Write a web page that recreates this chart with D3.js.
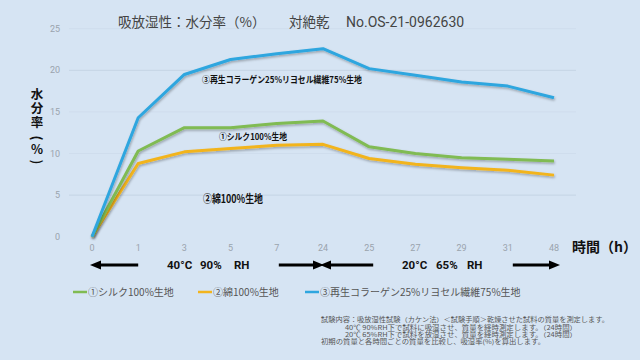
<!DOCTYPE html>
<html><head><meta charset="utf-8">
<script src="https://cdn.jsdelivr.net/npm/d3@7"></script>
<style>
html,body{margin:0;padding:0;background:#d6e4f3;}
svg{display:block;font-family:"Noto Sans CJK JP","Noto Sans",sans-serif;}
</style></head><body>
<svg id="c" width="640" height="360"></svg>
<script>
const categories = ["0","1","3","5","7","24","25","27","29","31","48"];
const silk     = [0,10.3,13.1,13.1,13.6,13.9,10.8,10.0,9.5,9.3,9.1];
const cotton   = [0,8.8,10.2,10.6,11.0,11.1,9.4,8.7,8.3,8.0,7.4];
const collagen = [0,14.3,19.5,21.3,22.0,22.6,20.2,19.4,18.6,18.1,16.7];
const yTicks = [0,5,10,15,20,25];
const seriesNames = ["①シルク100%生地","②綿100%生地","③再生コラーゲン25%リヨセル繊維75%生地"];
const colors = ["#80bb52","#f2b41e","#2ea6df"];
const notes = [
  "試験内容：吸放湿性試験（カケン法）＜試験手順＞乾燥させた試料の質量を測定します。",
  "40℃ 90%RH下で試料に吸湿させ、質量を経時測定します。（24時間）",
  "20℃ 65%RH下で試料を放湿させ、質量を経時測定します。（24時間）",
  "初期の質量と各時間ごとの質量を比較し、吸湿率(%)を算出します。"
];

const svg = d3.select("#c");
svg.append("rect").attr("width",640).attr("height",360).attr("fill","#d6e4f3");
const defs = svg.append("defs");
const f = defs.append("filter").attr("id","sh").attr("x","-10%").attr("y","-10%").attr("width","120%").attr("height","130%");
f.append("feDropShadow").attr("dx",0.8).attr("dy",1.5).attr("stdDeviation",0.9).attr("flood-color","#000").attr("flood-opacity",0.3);

const x = d3.scalePoint().domain(categories).range([92,554]);
const y = d3.scaleLinear().domain([0,25]).range([236.7,28.7]);

// gridlines
svg.append("g").selectAll("line").data(yTicks.filter(d=>d>0)).join("line")
  .attr("x1",69).attr("x2",576).attr("y1",d=>y(d)).attr("y2",d=>y(d))
  .attr("stroke",d=>(d===20||d===5)?"#c5d4e4":"#cfdded").attr("stroke-width",1);

// y tick labels
svg.append("g").selectAll("text").data(yTicks).join("text")
  .attr("x",60).attr("y",d=>y(d)).attr("dy","0.35em").attr("text-anchor","end")
  .attr("font-family","Roboto, sans-serif").attr("font-size",9).attr("fill","#9aa3ad").text(d=>d);

// x tick labels
svg.append("g").selectAll("text").data(categories).join("text")
  .attr("x",d=>x(d)).attr("y",248).attr("dy","0.35em").attr("text-anchor","middle")
  .attr("font-family","Roboto, sans-serif").attr("font-size",9).attr("fill","#9aa3ad").text(d=>d);

// lines
const line = d3.line().x((d,i)=>x(categories[i])).y(d=>y(d));
[cotton, silk, collagen].forEach((s,k)=>{
  const ci = [1,0,2][k];
  svg.append("path").attr("d",line(s)).attr("fill","none").attr("stroke",colors[ci])
    .attr("stroke-width",3).attr("stroke-linejoin","round").attr("filter","url(#sh)");
});

// title
const tg = svg.append("g").attr("fill","#444").attr("font-size",13.5);
tg.append("text").attr("x",118).attr("y",22).attr("dy","0.35em").text("吸放湿性：水分率（%）");
tg.append("text").attr("x",289).attr("y",22).attr("dy","0.35em").text("対絶乾");
tg.append("text").attr("x",346).attr("y",22).attr("dy","0.35em").attr("font-family","Roboto, sans-serif").attr("font-size",14).text("No.OS-21-0962630");

// y axis title (vertical)
const yt = [["水",95,0],["分",109,0],["率",123,0],["(",138,90],["%",150,0],[")",162,90]];
svg.append("g").selectAll("text").data(yt).join("text")
  .attr("transform",d=>`translate(37,${d[1]}) rotate(${d[2]})`)
  .attr("dy","0.35em").attr("text-anchor","middle")
  .attr("font-size",d=>d[2]?13:12.5).attr("font-weight","bold").attr("fill","#111").text(d=>d[0]);

// x axis title
svg.append("text").attr("x",572).attr("y",247).attr("dy","0.35em").attr("font-size",14)
  .attr("font-weight","bold").attr("fill","#111").text("時間（h）");

// annotations
svg.append("text").attr("x",202).attr("y",80).attr("dy","0.35em").attr("font-size",9)
  .attr("font-weight","bold").attr("fill","#111").attr("textLength",160).attr("lengthAdjust","spacingAndGlyphs").text(seriesNames[2]);
svg.append("text").attr("x",219).attr("y",137).attr("dy","0.35em").attr("font-size",9)
  .attr("font-weight","bold").attr("fill","#111").attr("textLength",68).attr("lengthAdjust","spacingAndGlyphs").text(seriesNames[0]);
svg.append("text").attr("x",203).attr("y",199).attr("dy","0.35em").attr("font-size",11)
  .attr("font-weight","bold").attr("fill","#111").attr("textLength",60).attr("lengthAdjust","spacingAndGlyphs").text(seriesNames[1]);

// arrows
function arrow(x1,x2,yy){
  const dir = x2>x1?1:-1;
  const g = svg.append("g");
  g.append("line").attr("x1",x1).attr("x2",x2-dir*8).attr("y1",yy).attr("y2",yy).attr("stroke","#000").attr("stroke-width",3);
  g.append("path").attr("d",`M${x2},${yy} L${x2-dir*11},${yy-4.5} L${x2-dir*11},${yy+4.5} Z`).attr("fill","#000");
}
const ay = 265;
arrow(x("1"), x("0")-2, ay);
arrow(x("7")+2, x("24")+1, ay);
arrow(x("25")+4, x("24")-3, ay);
arrow(x("31")+5, x("48")+6, ay);

const cond = svg.append("g").attr("font-family","Roboto, sans-serif").attr("font-weight","bold").attr("font-size",11.5).attr("fill","#111");
[["40°C",167],["90%",200],["RH",234],["20°C",402],["65%",436],["RH",467]].forEach(([t,xx])=>{
  cond.append("text").attr("x",xx).attr("y",ay).attr("dy","0.35em").text(t);
});

// legend
const legX = [73,198,305];
const lg = svg.append("g");
seriesNames.forEach((n,i)=>{
  lg.append("line").attr("x1",legX[i]).attr("x2",legX[i]+14).attr("y1",292).attr("y2",292).attr("stroke",colors[i]).attr("stroke-width",2.5);
  lg.append("text").attr("x",legX[i]+15).attr("y",292).attr("dy","0.35em").attr("font-size",10).attr("fill","#555").text(n);
});

// notes (one text block, four lines)
const nX = [321,345,345,321];
const nY = [320,327.3,334.6,342];
const nW = [288,232,232,224];
const nt = svg.append("text").attr("font-size",6.3).attr("fill","#555");
notes.forEach((t,i)=>{
  nt.append("tspan").attr("x",nX[i]).attr("y",nY[i]+2.2)
    .attr("textLength",nW[i]).attr("lengthAdjust","spacingAndGlyphs").text(t);
});
</script>
</body></html>
